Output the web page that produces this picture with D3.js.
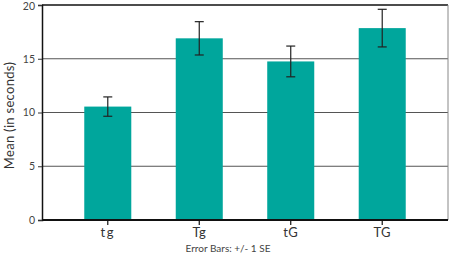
<!DOCTYPE html>
<html>
<head>
<meta charset="utf-8">
<script src="https://cdn.jsdelivr.net/npm/d3@7"></script>
<style>
  body { margin: 0; background: #fff; }
  text { font-family: "Lato", "Noto Sans", sans-serif; }
</style>
</head>
<body>
<script>
// chart data
const categories = ["tg", "Tg", "tG", "TG"];
const means = [10.55, 16.9, 14.75, 17.85];
const stdErrors = [0.9, 1.55, 1.43, 1.75];
const yTicks = [0, 5, 10, 15, 20];

const width = 454, height = 254;
const margin = { top: 5, right: 6, bottom: 34, left: 42 };

const svg = d3.select("body").append("svg")
    .attr("width", width)
    .attr("height", height);

const x = d3.scaleBand()
    .domain(categories)
    .range([margin.left, width - margin.right])
    .paddingInner(0.486)
    .paddingOuter(0.462);

const y = d3.scaleLinear()
    .domain([0, 20])
    .range([height - margin.bottom, margin.top]);

// grid lines
svg.append("g").selectAll("line")
    .data(yTicks.filter(d => d > 0))
    .join("line")
    .attr("x1", margin.left)
    .attr("x2", width - margin.right)
    .attr("y1", d => y(d))
    .attr("y2", d => y(d))
    .attr("stroke", d => d === 20 ? "#111" : "#555")
    .attr("stroke-width", d => d === 20 ? 1.5 : 1.2);

// right border
svg.append("line")
    .attr("x1", width - margin.right).attr("x2", width - margin.right)
    .attr("y1", y(20)).attr("y2", y(0))
    .attr("stroke", "#888").attr("stroke-width", 1);

// bars
svg.append("g").selectAll("rect")
    .data(categories)
    .join("rect")
    .attr("x", d => x(d))
    .attr("y", (d, i) => y(means[i]))
    .attr("width", x.bandwidth())
    .attr("height", (d, i) => y(0) - y(means[i]))
    .attr("fill", "#00a69c");

// error bars
const eb = svg.append("g").attr("stroke", "#222").attr("stroke-width", 1.2);
categories.forEach((c, i) => {
    const cx = x(c) + x.bandwidth() / 2;
    const hi = y(means[i] + stdErrors[i]), lo = y(means[i] - stdErrors[i]);
    eb.append("line").attr("x1", cx).attr("x2", cx).attr("y1", hi).attr("y2", lo);
    eb.append("line").attr("x1", cx - 4.5).attr("x2", cx + 4.5).attr("y1", hi).attr("y2", hi);
    eb.append("line").attr("x1", cx - 4.5).attr("x2", cx + 4.5).attr("y1", lo).attr("y2", lo);
});

// y axis
const yAxis = svg.append("g")
    .attr("transform", `translate(${margin.left},0)`)
    .call(d3.axisLeft(y).tickValues(yTicks).tickSize(4).tickPadding(3));
yAxis.select(".domain").attr("stroke", "#111").attr("stroke-width", 1.5);
yAxis.selectAll(".tick line").attr("stroke", "#333");
yAxis.selectAll("text").attr("font-size", 10.5).attr("fill", "#444")
    .attr("dy", d => d === 20 ? "0.45em" : "0.32em")
    .style("font-family", "Lato, 'Noto Sans', sans-serif");

// x axis
const xAxis = svg.append("g")
    .attr("transform", `translate(0,${y(0)})`)
    .call(d3.axisBottom(x).tickSize(5).tickPadding(3));
xAxis.select(".domain").attr("stroke", "#111").attr("stroke-width", 2)
    .attr("d", `M${margin.left},0H${width - margin.right}`);
xAxis.selectAll(".tick line").attr("stroke", "#111").attr("stroke-width", 1.2);
xAxis.selectAll("text").attr("font-size", 13).attr("fill", "#333")
    .attr("letter-spacing", d => d === "tg" ? 1.5 : 0.3)
    .style("font-family", "Lato, 'Noto Sans', sans-serif");

// axis titles
svg.append("text")
    .attr("transform", `translate(14,${(y(0) + y(20)) / 2 + 3}) rotate(-90)`)
    .attr("text-anchor", "middle")
    .attr("font-size", 13)
    .attr("letter-spacing", 0.3)
    .attr("fill", "#333")
    .text("Mean (in seconds)");

svg.append("text")
    .attr("x", 228)
    .attr("y", 251.5)
    .attr("text-anchor", "middle")
    .attr("font-size", 10)
    .attr("fill", "#444")
    .text("Error Bars: +/- 1 SE");
</script>
</body>
</html>
